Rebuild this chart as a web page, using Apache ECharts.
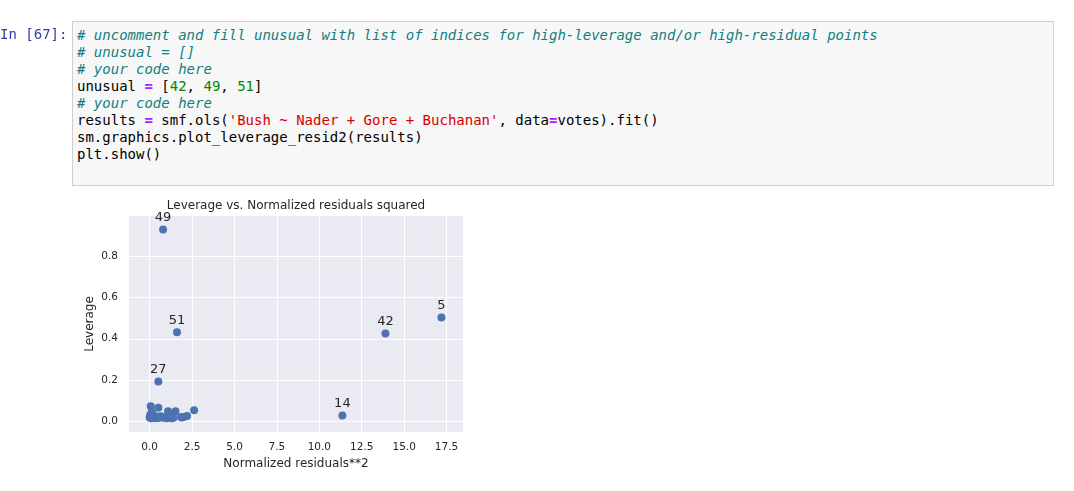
<!DOCTYPE html>
<html>
<head>
<meta charset="utf-8">
<script src="https://cdn.jsdelivr.net/npm/echarts@6/dist/echarts.min.js"></script>
<style>
  html, body { margin:0; padding:0; background:#fff; width:1074px; height:491px; overflow:hidden; }
  #chart { position:absolute; left:0; top:0; width:1074px; height:491px; }
  .prompt { position:absolute; left:0; top:26px; font-family:'DejaVu Sans Mono', monospace; font-size:14px; line-height:17px; color:#303F9F; white-space:pre; }
  #cell { position:absolute; left:72px; top:21px; width:980px; height:163px; background:#f7f7f7; border:1px solid #cfcfcf; }
  #cell pre { margin:0; position:absolute; left:4px; top:5px; font-family:'DejaVu Sans Mono', monospace; font-size:14px; line-height:17px; color:#000; }
  .c { color:#117f7f; font-style:italic; }
  .o { color:#AA22FF; font-weight:bold; }
  .n { color:#008800; }
  .s { color:#d40000; }
</style>
</head>
<body>
<div id="chart"></div>
<div class="prompt">In [67]:</div>
<div id="cell"><pre><span class="c"># uncomment and fill unusual with list of indices for high-leverage and/or high-residual points</span>
<span class="c"># unusual = []</span>
<span class="c"># your code here</span>
unusual <span class="o">=</span> [<span class="n">42</span>, <span class="n">49</span>, <span class="n">51</span>]
<span class="c"># your code here</span>
results <span class="o">=</span> smf.ols(<span class="s">'Bush ~ Nader + Gore + Buchanan'</span>, data<span class="o">=</span>votes).fit()
sm.graphics.plot_leverage_resid2(results)
plt.show()</pre></div>
<script>
// Normalized residuals squared (x) and leverage (y) per observation
const residSq = [0.79, 1.61, 13.9, 17.2, 0.51, 11.36,
  0.06, 0.51, 1.08, 1.52, 2.62, 0.12, 0.10, 0.05, 0.00, 0.02, 0.15, 0.25, 0.30, 0.40,
  0.45, 0.60, 0.70, 0.85, 0.95, 1.00, 1.15, 1.25, 1.30, 1.40, 1.85, 2.00, 2.20, 0.20,
  0.08, 0.35, 1.20, 0.65, 0.03, 1.90, 0.50];
const leverage = [0.93, 0.432, 0.426, 0.503, 0.193, 0.028,
  0.073, 0.066, 0.048, 0.048, 0.053, 0.045, 0.035, 0.025, 0.018, 0.022, 0.020, 0.018, 0.025, 0.020,
  0.016, 0.018, 0.020, 0.017, 0.022, 0.015, 0.018, 0.020, 0.015, 0.017, 0.020, 0.021, 0.026, 0.030,
  0.015, 0.016, 0.025, 0.024, 0.030, 0.018, 0.020];
const pointLabels = ['49', '51', '42', '5', '27', '14'];
const xTicks = [0, 2.5, 5, 7.5, 10, 12.5, 15, 17.5];
const yTicks = [0, 0.2, 0.4, 0.6, 0.8];
const chartTitle = 'Leverage vs. Normalized residuals squared';
const xName = 'Normalized residuals**2';
const yName = 'Leverage';

const data = residSq.map((x, i) => [x, leverage[i]]);
const font = "'DejaVu Sans', sans-serif";
const fmt = v => Number(v).toFixed(1);

const chart = echarts.init(document.getElementById('chart'), null, { renderer: 'canvas' });
chart.setOption({
  backgroundColor: '#ffffff',
  animation: false,
  graphic: [{
    type: 'text', x: 296, y: 206, z: 10,
    style: { text: chartTitle, align: 'center', verticalAlign: 'middle',
      font: "12px 'DejaVu Sans', sans-serif", fill: '#262626' }
  }],
  grid: {
    left: 129, top: 216, width: 334, height: 216,
    show: true, backgroundColor: '#EAEAF2', borderWidth: 0
  },
  xAxis: {
    type: 'value', min: -1.22, max: 18.47,
    name: xName, nameLocation: 'middle', nameGap: 26,
    nameTextStyle: { fontFamily: font, fontSize: 12, color: '#262626' },
    axisLine: { show: false }, 
    axisTick: { show: false, customValues: xTicks },
    axisLabel: { customValues: xTicks, formatter: fmt, fontFamily: font, fontSize: 10.5, color: '#262626', margin: 10 },
    splitLine: { show: true, lineStyle: { color: '#ffffff', width: 1 } }
  },
  yAxis: {
    type: 'value', min: -0.052, max: 0.995,
    name: yName, nameLocation: 'middle', nameGap: 33,
    nameTextStyle: { fontFamily: font, fontSize: 12, color: '#262626' },
    axisLine: { show: false },
    axisTick: { show: false, customValues: yTicks },
    axisLabel: { customValues: yTicks, formatter: fmt, fontFamily: font, fontSize: 10.5, color: '#262626', margin: 11 },
    splitLine: { show: true, lineStyle: { color: '#ffffff', width: 1 } }
  },
  series: [{
    type: 'scatter',
    data: data,
    symbolSize: 8,
    itemStyle: { color: '#4C72B0', opacity: 1 },
    label: {
      show: true, position: 'top', distance: 1.5,
      fontFamily: font, fontSize: 13, color: '#262626',
      formatter: p => pointLabels[p.dataIndex] || ''
    }
  }]
});
</script>
</body>
</html>
